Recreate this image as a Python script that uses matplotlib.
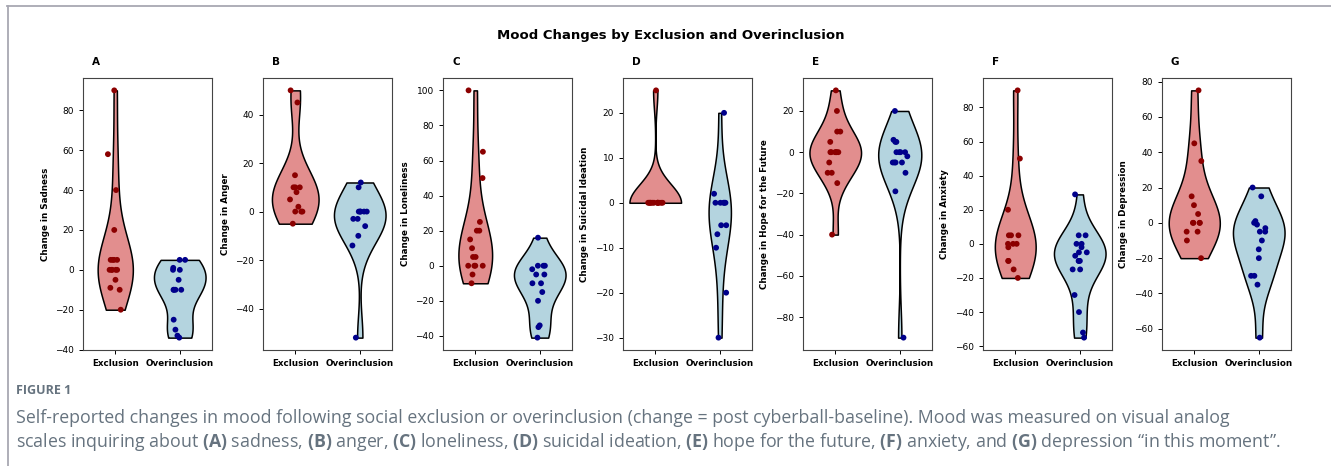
import matplotlib
matplotlib.use('Agg')
import matplotlib.pyplot as plt
import numpy as np
import pandas as pd
import seaborn as sns
from matplotlib.lines import Line2D

np.random.seed(2)

# values (change = post - baseline)
groups = ['Exclusion', 'Overinclusion']

sad_exc = [90, 58, 40, 20, 5, 5, 5, 5, 0, 0, 0, 0, 0, -5, -9, -10, -20]
sad_over = [5, 5, 1, 0, 0, -5, -10, -10, -10, -10, -25, -30, -33, -34]

anger_exc = [50, 45, 15, 10, 10, 10, 8, 5, 2, 0, 0, 0, -5]
anger_over = [12, 10, 0, 0, 0, 0, 0, -3, -3, -6, -10, -14, -52]

lonely_exc = [100, 65, 50, 25, 20, 20, 15, 10, 5, 5, 0, 0, 0, 0, -5, -10]
lonely_over = [16, 0, 0, 0, -2, -5, -5, -10, -10, -15, -20, -34, -35, -41]

suic_exc = [25, 0, 0, 0, 0, 0, 0, 0, 0, 0, 0, 0, 0]
suic_over = [20, 2, 0, 0, 0, 0, 0, -5, -5, -7, -10, -20, -30]

hope_exc = [30, 20, 10, 10, 5, 0, 0, 0, 0, 0, 0, -5, -10, -10, -15, -40]
hope_over = [20, 6, 5, 5, 0, 0, 0, 0, -2, -5, -5, -5, -5, -10, -19, -90]

anx_exc = [90, 50, 20, 5, 5, 5, 0, 0, 0, -2, -10, -10, -15, -20]
anx_over = [29, 5, 5, 0, 0, -2, -5, -5, -7, -10, -10, -10, -15, -15, -30, -40, -52, -55]

dep_exc = [75, 45, 35, 15, 10, 5, 0, 0, 0, 0, -5, -5, -10, -20]
dep_over = [20, 15, 1, 0, -1, -3, -5, -5, -10, -15, -20, -30, -30, -35, -65]

panels = [
    ('A', 'Change in Sadness', sad_exc, sad_over),
    ('B', 'Change in Anger', anger_exc, anger_over),
    ('C', 'Change in Loneliness', lonely_exc, lonely_over),
    ('D', 'Change in Suicidal Ideation', suic_exc, suic_over),
    ('E', 'Change in Hope for the Future', hope_exc, hope_over),
    ('F', 'Change in Anxiety', anx_exc, anx_over),
    ('G', 'Change in Depression', dep_exc, dep_over),
]

violin_cols = [sns.desaturate('lightcoral', 0.75), sns.desaturate('lightblue', 0.75)]
dot_cols = ['darkred', 'darkblue']

plt.rcParams['mathtext.fontset'] = 'custom'
plt.rcParams['mathtext.rm'] = 'Open Sans'
plt.rcParams['mathtext.bf'] = 'Open Sans:bold'

W, H = 1331, 466
fig = plt.figure(figsize=(W/100, H/100), dpi=100)

lefts = [83, 263, 443, 623, 803, 983, 1162]
axw, top, bot = 129, 78, 350

for left, (letter, lab, exc, over) in zip(lefts, panels):
    ax = fig.add_axes([left/W, 1 - bot/H, axw/W, (bot - top)/H])
    df = pd.DataFrame({'group': [groups[0]]*len(exc) + [groups[1]]*len(over),
                       'value': exc + over})
    # no hue here, so both violins share one width scale (area norm)
    sns.violinplot(data=df, x='group', y='value', color='lightgray',
                   cut=0, inner=None, linewidth=1.1, linecolor='black', ax=ax)
    for pc, c in zip(ax.collections, violin_cols):
        pc.set_facecolor(c)
    sns.stripplot(data=df, x='group', y='value', hue='group', palette=dot_cols,
                  size=4.2, jitter=0.12, legend=False, ax=ax, zorder=3)
    ax.set_xlabel('')
    ax.set_ylabel(lab, fontsize=6.3, fontweight='bold')
    ax.tick_params(axis='y', labelsize=6.5, length=3, width=0.7)
    ax.tick_params(axis='x', length=3, width=0.7)
    for t in ax.get_xticklabels():
        t.set_fontsize(6.3)
        t.set_fontweight('bold')
    for s in ax.spines.values():
        s.set_linewidth(0.8)
        s.set_color('#444444')
    ax.text(0.1, 1.04, letter, transform=ax.transAxes, fontsize=7.5,
            fontweight='bold', ha='center', va='bottom')

fig.text(671/W, 1 - 36/H, 'Mood Changes by Exclusion and Overinclusion',
         fontsize=9.5, fontweight='bold', ha='center', va='center')

# page frame
bcol = '#a8a8b2'
fig.add_artist(Line2D([7/W, 1], [1 - 6/H, 1 - 6/H], color=bcol, lw=1.3))
fig.add_artist(Line2D([8/W, 8/W], [0, 1 - 6/H], color=bcol, lw=1.3))

# caption
ccol = '#66737f'
fig.text(16/W, 1 - 391/H, 'FIGURE 1', fontsize=9, fontweight='bold',
         family='Open Sans', color=ccol, va='center')
line1 = ('Self-reported changes in mood following social exclusion or overinclusion '
         '(change = post cyberball-baseline). Mood was measured on visual analog')
line2 = (r'scales inquiring about $\mathbf{(A)}$ sadness, $\mathbf{(B)}$ anger, '
         r'$\mathbf{(C)}$ loneliness, $\mathbf{(D)}$ suicidal ideation, '
         r'$\mathbf{(E)}$ hope for the future, $\mathbf{(F)}$ anxiety, and '
         r'$\mathbf{(G)}$ depression “in this moment”.')
fig.text(16/W, 1 - 418/H, line1, fontsize=12.8, family='Open Sans', color=ccol, va='center')
fig.text(16/W, 1 - 442/H, line2, fontsize=12.8, family='Open Sans', color=ccol, va='center')

fig.savefig('out.png', dpi=100)
